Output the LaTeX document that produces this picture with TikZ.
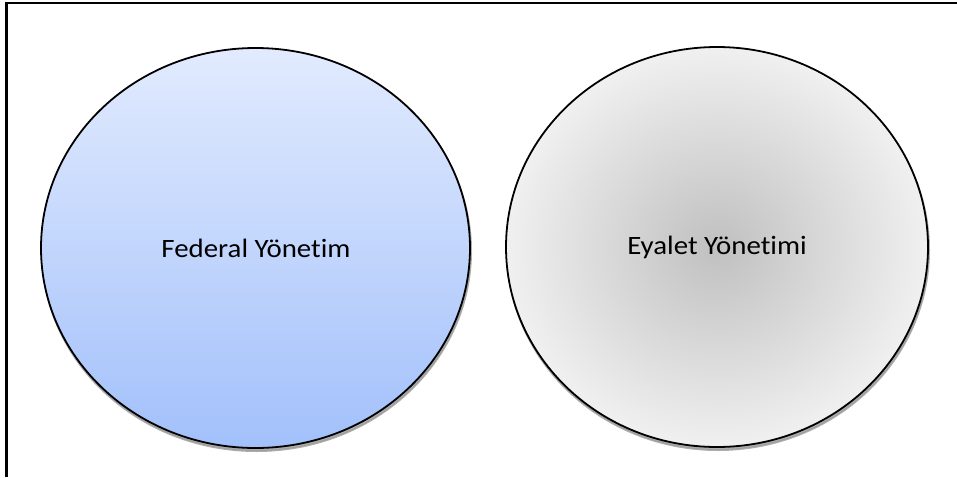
\documentclass[tikz,border=0pt]{standalone}
\usepackage{fontspec}
\setmainfont{Carlito}[FakeStretch=1.09, RawFeature=-liga]
\usetikzlibrary{shadings}
\definecolor{blueTop}{HTML}{E2EBFE}
\definecolor{blueBot}{HTML}{A2C0FB}
\definecolor{greyMid}{HTML}{C0C0C0}
\definecolor{greyEdge}{HTML}{F0F0F0}
\definecolor{shadowGrey}{HTML}{9A9A9A}
\tikzset{
  frameline/.style={line width=2.2pt, black},
  bubble/.style={line width=1.8pt, black},
  bubbleshadow/.style={fill=shadowGrey, draw=shadowGrey, line width=2pt, opacity=0.8},
  label/.style={font=\fontsize{26.5}{30}\selectfont, text=black, inner sep=0pt}
}
\begin{document}
\begin{tikzpicture}[x=1pt,y=-1pt]
  \useasboundingbox (0,0) rectangle (957,477);
  % outer frame: top and left edges only
  \draw[frameline] (6.5,477) -- (6.5,3) -- (957,3);

  % federal government bubble
  \fill[bubbleshadow] (256.5,251) ellipse [x radius=214.5, y radius=200];
  \shade[top color=blueTop, bottom color=blueBot] (255.5,248) ellipse [x radius=214.5, y radius=200];
  \draw[bubble] (255.5,248) ellipse [x radius=214.5, y radius=200];
  \node[label] (fed) at (256,248) {Federal Yönetim};

  % state government bubble
  \fill[bubbleshadow] (718,250) ellipse [x radius=211, y radius=200];
  \shade[inner color=greyMid, outer color=greyEdge] (717,247) ellipse [x radius=211, y radius=200];
  \draw[bubble] (717,247) ellipse [x radius=211, y radius=200];
  \node[label] (eya) at (717,247) {Eyalet Yönetimi};
\end{tikzpicture}
\end{document}
